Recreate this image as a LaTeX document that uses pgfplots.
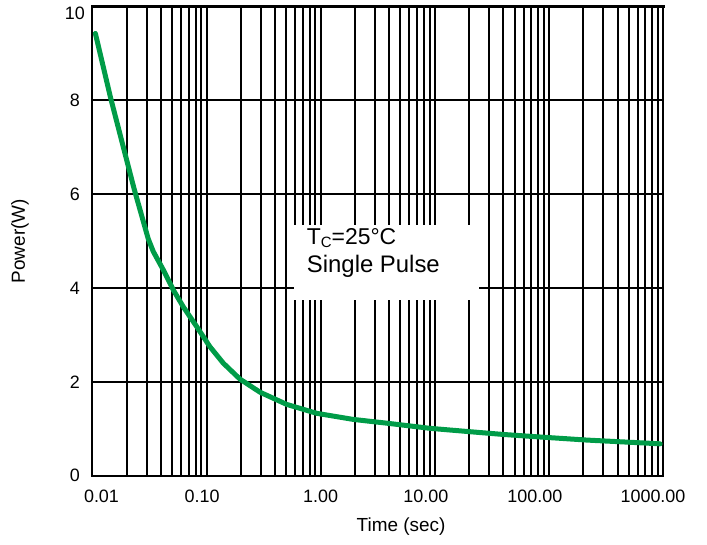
\documentclass[border=0pt]{standalone}
\usepackage{pgfplots}
\pgfplotsset{compat=1.18}
\usepackage{fontspec}
\setmainfont{Liberation Sans}
\definecolor{curvegreen}{RGB}{0,156,72}
\begin{document}
\begin{tikzpicture}
\useasboundingbox (-92.5bp,-69.3bp) rectangle (614.5bp,475.7bp);
\begin{axis}[
  scale only axis,
  clip=false,
  width=570.5bp, height=469bp,
  xmode=log,
  xmin=0.01, xmax=1000,
  ymin=0, ymax=10,
  xtick={0.01,0.1,1,10,100,1000},
  xticklabels={\hspace*{18bp}0.01, 0.10\hspace*{9bp}, 1.00, 10.00\hspace*{18bp}, 100.00\hspace*{28bp}, 1000.00\hspace*{20bp}},
  ytick={0,2,4,6,8,10},
  yticklabels={0,2,4,6,8,{}},
  /pgf/number format/assume math mode=true,
  major tick length=0pt, minor tick length=0pt,
  xmajorgrids, xminorgrids, ymajorgrids,
  grid style={black, line width=2bp},
  minor grid style={black, line width=2bp},
  axis line style={black, line width=2bp},
  xticklabel style={font=\fontsize{18}{18}\selectfont, inner sep=0pt, anchor=north, yshift=-14bp},
  yticklabel style={font=\fontsize{18}{18}\selectfont, inner sep=0pt, anchor=east, xshift=-12.5bp},
  xlabel={Time (sec)},
  ylabel={Power(W)},
  xlabel style={font=\fontsize{19}{19}\selectfont, at={(axis description cs:0.5408,-0.1087)}, anchor=center},
  ylabel style={font=\fontsize{19}{19}\selectfont, at={(axis description cs:-0.127,0.5)}, anchor=center},
]
\addplot[curvegreen, line width=5bp, line join=round, line cap=round] coordinates {
(0.0106,9.43)
(0.0144,8.06)
(0.0232,6.11)
(0.0308,5.05)
(0.0341,4.78)
(0.0417,4.39)
(0.0511,3.96)
(0.0625,3.60)
(0.0818,3.18)
(0.107,2.75)
(0.140,2.40)
(0.196,2.06)
(0.294,1.78)
(0.504,1.52)
(0.923,1.33)
(1.93,1.20)
(3.79,1.12)
(9.08,1.01)
(24.9,0.92)
(39.6,0.88)
(78.2,0.83)
(214,0.76)
(944,0.68)
};
\draw[black, line width=3bp, line cap=rect] (rel axis cs:0,1) -- (rel axis cs:1,1);
\fill[white] (rel axis cs:0.3532,0.3746) rectangle (rel axis cs:0.6775,0.5345);
\node[anchor=base west, inner sep=0pt, font=\fontsize{23}{23}\selectfont] at (rel axis cs:0.3755,0.4919) {T\raisebox{-3bp}{\fontsize{15}{15}\selectfont C}=25°C};
\node[anchor=base west, inner sep=0pt, font=\fontsize{24}{24}\selectfont] at (rel axis cs:0.3755,0.4328) {Single Pulse};
\node[anchor=east, inner sep=0pt, font=\fontsize{18}{18}\selectfont, xshift=-7.5bp, yshift=-7bp] at (rel axis cs:0,1) {10};
\end{axis}
\end{tikzpicture}
\end{document}
